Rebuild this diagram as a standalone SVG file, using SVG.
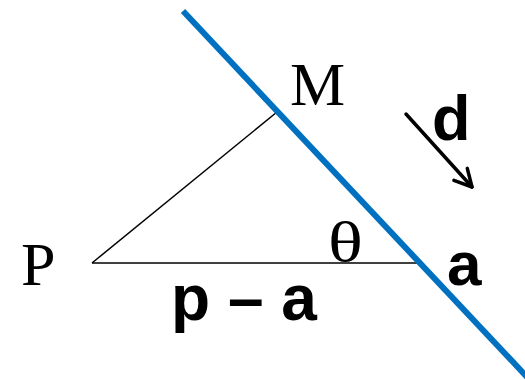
<svg xmlns="http://www.w3.org/2000/svg" width="525" height="380" viewBox="0 0 525 380">
<style>
.serif{font-family:"Liberation Serif","Times New Roman",serif;fill:#000}
.bold{font-family:"Liberation Sans",Arial,sans-serif;font-weight:bold;fill:#000}
.thin{stroke:#000;stroke-width:1.5;fill:none}
</style>
<defs>
<marker id="open" viewBox="0 0 22 22" refX="19" refY="11" markerWidth="22" markerHeight="22" markerUnits="userSpaceOnUse" orient="auto">
<path d="M2,2 L19,11 L2,20" fill="none" stroke="#000" stroke-width="3.5" stroke-linecap="round" stroke-linejoin="round"/>
</marker>
</defs>
<g id="connectors">
<line class="thin" x1="92" y1="263" x2="277" y2="112"/>
<line class="thin" x1="92" y1="263" x2="421" y2="263"/>
<line x1="406" y1="114" x2="472" y2="187" stroke="#000" stroke-width="3.5" stroke-linecap="round" marker-end="url(#open)"/>
</g>
<g id="line">
<line x1="183" y1="11" x2="528" y2="378" stroke="#0070C0" stroke-width="6"/>
</g>
<g id="M"><text class="serif" x="290" y="105" font-size="62">M</text></g>
<g id="P"><text class="serif" x="21" y="285" font-size="62">P</text></g>
<g id="theta"><text class="serif" transform="translate(328,261) scale(1.3,1)" font-size="56">θ</text></g>
<g id="a"><text class="bold" x="447" y="285" font-size="62">a</text></g>
<g id="pa"><text class="bold" x="171" y="320" font-size="64">p – a</text></g>
<g id="d"><text class="bold" x="432" y="140" font-size="63">d</text></g>
</svg>
